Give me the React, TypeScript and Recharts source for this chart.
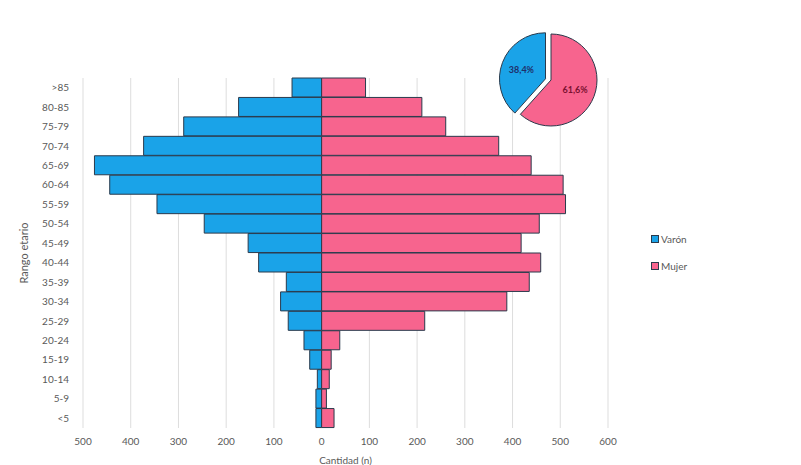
import React from 'react';
import { BarChart, Bar, XAxis, YAxis, CartesianGrid, Legend, PieChart, Pie, Cell } from 'recharts';

const ageGroups = ['>85', '80-85', '75-79', '70-74', '65-69', '60-64', '55-59', '50-54', '45-49', '40-44', '35-39', '30-34', '25-29', '20-24', '15-19', '10-14', '5-9', '<5'];
const varon = [62, 174, 289, 373, 476, 444, 345, 246, 154, 132, 74, 86, 70, 37, 25, 9, 12, 12];
const mujer = [92, 210, 260, 371, 439, 506, 511, 456, 418, 459, 435, 388, 216, 38, 20, 16, 10, 26];
const xTicks = [-500, -400, -300, -200, -100, 0, 100, 200, 300, 400, 500, 600];
const sexNames = ['Mujer', 'Varón'];
const sexShare = [61.6, 38.4];
const shareLabels = ['61,6%', '38,4%'];

const BLUE = '#1AA3E8';
const PINK = '#F7648E';
const EDGE = '#2A3A4C';
const FONT = 'Lato, "Liberation Sans", sans-serif';

const rows = ageGroups.map((age, i) => ({ age, varon: -varon[i], mujer: mujer[i] }));
const pieData = sexNames.map((name, i) => ({ name, value: sexShare[i], label: shareLabels[i] }));

const RAD = Math.PI / 180;

function makeLabel(idx: number, color: string) {
  return (p: any) => {
    if (p.index !== idx) return null;
    const r = p.outerRadius * 0.56;
    const x = p.cx + r * Math.cos(-p.midAngle * RAD);
    const y = p.cy + r * Math.sin(-p.midAngle * RAD);
    return (
      <text x={x} y={y} fill={color} fontSize={9} fontWeight="bold" fontFamily={FONT} textAnchor="middle" dominantBaseline="central">
        {p.payload.label}
      </text>
    );
  };
}

const renderLegend = (props: any) => {
  const items = [
    { name: 'Varón', color: BLUE },
    { name: 'Mujer', color: PINK },
  ];
  return (
    <div style={{ fontFamily: FONT, fontSize: 10, color: '#595959' }}>
      {items.map((it) => (
        <div key={it.name} style={{ display: 'flex', alignItems: 'center', height: 27 }}>
          <span style={{ display: 'inline-block', width: 6, height: 6, background: it.color, border: `1px solid ${EDGE}`, marginRight: 2 }} />
          <span>{it.name}</span>
        </div>
      ))}
    </div>
  );
};

export default function App() {
  return (
    <div style={{ position: 'absolute', left: 0, top: 0, width: 801, height: 465, background: '#fff', overflow: 'hidden' }}>
      <BarChart
        width={801}
        height={465}
        data={rows}
        layout="vertical"
        stackOffset="sign"
        barCategoryGap={0}
        margin={{ top: 78, right: 193, bottom: 0, left: 0 }}
      >
        <CartesianGrid horizontal={false} stroke="#DDDDDD" />
        <XAxis
          type="number"
          domain={[-500, 600]}
          ticks={xTicks}
          tickFormatter={(v: number) => String(Math.abs(v))}
          axisLine={false}
          tickLine={false}
          tickSize={0}
          tickMargin={10}
          height={37}
          tick={{ fontSize: 10, fill: '#595959', fontFamily: FONT }}
          label={{ value: 'Cantidad (n)', position: 'insideBottom', offset: 1, style: { fontSize: 10, fill: '#595959', fontFamily: FONT } }}
        />
        <YAxis
          type="category"
          dataKey="age"
          width={83}
          axisLine={false}
          tickLine={false}
          tickSize={0}
          tickMargin={14}
          interval={0}
          tick={{ fontSize: 10, fill: '#595959', fontFamily: FONT }}
          label={{ value: 'Rango etario', angle: -90, position: 'insideLeft', offset: 24, style: { textAnchor: 'middle', fontSize: 11, fill: '#595959', fontFamily: FONT } }}
        />
        <Legend layout="vertical" align="center" verticalAlign="middle" wrapperStyle={{ left: 651, top: 225, width: 80 }} content={renderLegend} />
        <Bar dataKey="varon" name="Varón" stackId="s" fill={BLUE} stroke={EDGE} strokeWidth={1} isAnimationActive={false} />
        <Bar dataKey="mujer" name="Mujer" stackId="s" fill={PINK} stroke={EDGE} strokeWidth={1} isAnimationActive={false} />
      </BarChart>
      <div style={{ position: 'absolute', left: 480, top: 0 }}>
        <PieChart width={130} height={130}>
          <Pie
            data={pieData}
            dataKey="value"
            cx={66}
            cy={75}
            outerRadius={46}
            startAngle={90}
            endAngle={-270}
            isAnimationActive={false}
            label={makeLabel(0, '#7A1030')}
            labelLine={false}
          >
            <Cell fill={PINK} stroke={EDGE} strokeWidth={1} />
            <Cell fill="none" stroke="none" />
          </Pie>
          <Pie
            data={pieData}
            dataKey="value"
            cx={60.5}
            cy={73.8}
            outerRadius={46}
            startAngle={90}
            endAngle={-270}
            isAnimationActive={false}
            label={makeLabel(1, '#1F2F6B')}
            labelLine={false}
          >
            <Cell fill="none" stroke="none" />
            <Cell fill={BLUE} stroke={EDGE} strokeWidth={1} />
          </Pie>
        </PieChart>
      </div>
    </div>
  );
}
